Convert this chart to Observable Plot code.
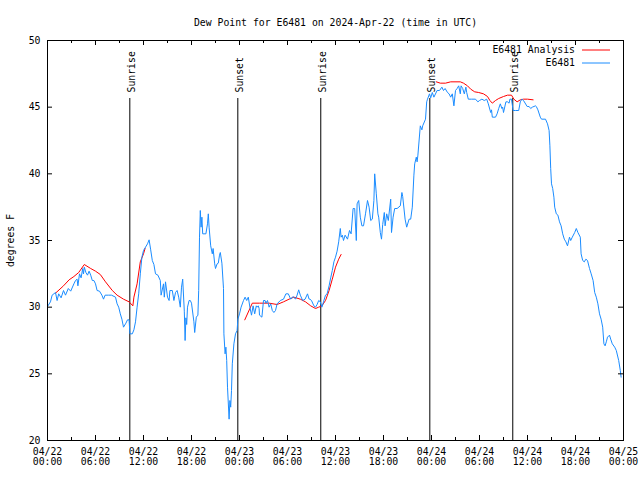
<!DOCTYPE html>
<html><head><meta charset="utf-8">
<script src="https://cdn.jsdelivr.net/npm/d3@7"></script>
<script src="https://cdn.jsdelivr.net/npm/@observablehq/plot@0.6"></script>
<style>body{margin:0;background:#fff}</style>
</head><body><div id="chart"></div>
<script>
const titleText = "Dew Point for E6481 on 2024-Apr-22 (time in UTC)";
const yLabel = "degrees F";
const startMs = Date.UTC(2024, 3, 22, 0, 0);

// Observations (hours since 04/22 00:00 UTC, dew point °F)
const obsHours = [0.0,0.37,0.58,1.0,1.2,1.4,1.7,2.0,2.25,2.6,2.9,3.3,3.5,3.7,3.8,4.0,4.2,4.4,4.5,4.6,4.8,5.0,5.2,5.4,5.6,5.8,6.0,6.2,6.5,6.8,7.0,7.2,7.6,8.0,8.5,8.7,8.9,9.1,9.3,9.5,9.8,10.0,10.2,10.3,10.6,10.8,11.0,11.2,11.4,11.6,11.8,12.0,12.5,12.7,12.9,13.1,13.3,13.5,13.8,14.1,14.2,14.5,14.6,14.75,15.0,15.2,15.3,15.6,15.8,16.0,16.2,16.4,16.6,16.75,16.9,17.1,17.2,17.3,17.4,17.5,17.7,17.85,18.0,18.3,18.4,18.6,18.8,18.9,19.0,19.1,19.2,19.3,19.4,19.8,20.0,20.1,20.2,20.4,20.6,20.7,20.9,21.0,21.2,21.35,21.5,21.6,21.8,22.0,22.05,22.2,22.3,22.4,22.5,22.7,22.8,22.9,23.0,23.1,23.3,23.5,23.7,23.8,24.0,24.2,24.5,24.7,24.9,25.1,25.3,25.5,25.7,25.9,26.1,26.2,26.35,26.45,26.5,26.8,27.0,27.2,27.3,27.5,27.7,27.9,28.1,28.3,28.5,28.7,29.1,29.5,29.8,30.1,30.4,30.7,31.0,31.2,31.4,31.6,31.9,32.2,32.5,32.7,32.8,33.0,33.3,33.5,33.7,33.9,34.1,34.3,34.5,34.75,34.95,35.2,35.4,35.6,35.8,36.0,36.2,36.4,36.6,36.7,36.85,37.0,37.2,37.5,37.75,37.95,38.2,38.4,38.6,38.7,38.9,39.1,39.3,39.5,39.75,40.0,40.2,40.4,40.6,40.8,40.9,41.1,41.3,41.4,41.6,41.75,41.9,42.1,42.2,42.4,42.6,42.9,43.0,43.2,43.4,43.7,44.1,44.3,44.4,44.7,44.9,45.2,45.4,45.6,45.8,45.9,46.1,46.2,46.3,46.6,46.8,46.9,47.25,47.4,47.5,47.75,47.9,48.1,48.3,48.7,49.0,49.3,49.5,49.7,50.0,50.2,50.4,50.6,50.8,51.0,51.2,51.4,51.6,51.7,51.9,52.1,52.3,52.4,52.6,53.0,53.5,53.8,54.0,54.3,54.6,54.9,55.1,55.4,55.5,55.6,56.0,56.2,56.4,56.6,56.8,56.9,57.0,57.3,57.5,57.7,57.8,58.0,58.2,58.5,58.9,59.1,59.3,59.5,59.96,60.2,60.4,60.6,61.0,61.1,61.3,61.6,61.75,62.25,62.5,62.7,62.8,62.9,63.0,63.15,63.3,63.4,63.6,63.8,64.0,64.2,64.4,64.6,64.8,65.0,65.25,65.4,65.6,65.9,66.1,66.3,66.6,66.7,66.9,67.1,67.3,67.5,67.75,67.96,68.2,68.4,68.6,68.8,69.0,69.2,69.4,69.55,69.7,69.85,70.0,70.25,70.4,70.6,70.9,71.1,71.4,71.6,71.7];
const obsDew = [30.05,30.4,30.9,31.1,30.5,31.0,30.7,31.25,30.9,31.4,31.2,31.75,32.0,32.1,31.6,32.5,32.2,32.9,32.5,33.0,32.6,32.4,32.7,32.4,32.0,32.0,31.75,31.25,31.2,30.9,30.6,30.9,30.9,30.9,30.75,30.25,30.0,29.5,29.1,28.5,28.8,29.05,29.05,28.0,28.0,28.3,28.9,30.0,31.0,32.5,33.75,34.25,34.75,35.05,34.3,33.5,33.2,32.5,32.4,32.0,30.9,31.75,30.75,31.9,30.75,30.5,31.25,31.25,30.5,31.1,31.25,30.75,30.0,31.5,32.1,29.7,27.5,29.2,28.7,30.0,30.5,30.5,30.3,28.9,28.1,29.25,29.4,31.25,35.25,37.25,36.0,36.75,35.5,35.5,36.25,37.0,36.0,34.6,34.0,34.4,33.25,32.9,33.25,33.3,33.9,34.1,33.3,31.4,28.0,26.5,27.0,26.0,24.0,21.6,23.0,22.5,23.75,25.75,27.25,28.0,28.25,29.1,29.5,30.0,30.5,30.75,30.5,30.75,30.0,29.4,30.1,29.5,30.1,30.0,30.1,29.9,29.4,29.25,30.5,30.5,30.3,30.5,30.0,30.25,29.75,29.6,29.75,30.25,30.5,30.6,31.0,31.0,30.6,30.8,30.6,30.9,31.3,30.9,30.5,30.6,31.0,30.6,30.6,30.5,30.1,30.0,30.2,30.5,30.4,30.0,30.4,30.9,31.0,31.6,32.2,32.75,33.4,33.75,34.2,34.9,35.9,35.25,35.4,35.0,35.4,35.1,35.75,35.5,37.4,37.4,35.0,37.75,38.0,36.75,36.1,36.1,37.0,38.0,37.5,36.5,36.6,38.0,40.0,38.5,37.0,36.75,35.6,35.1,36.2,37.1,36.1,37.0,36.5,38.1,35.6,36.75,37.4,37.4,37.6,38.6,38.3,36.6,36.0,36.6,36.6,37.5,39.9,40.75,41.25,40.9,41.4,43.6,43.3,43.6,44.1,45.4,45.6,46.0,45.7,46.1,45.75,46.25,46.25,46.5,46.25,46.4,46.1,46.0,45.75,46.0,45.1,46.25,46.4,46.6,46.0,46.6,46.4,46.0,46.5,46.1,45.6,45.6,45.6,45.4,45.5,45.6,45.5,45.6,45.25,44.6,44.8,44.25,44.25,44.5,44.9,45.25,44.9,45.0,44.6,45.4,45.4,45.3,45.6,45.6,44.75,44.75,44.75,45.4,45.6,45.5,45.05,45.05,44.9,45.0,45.1,45.05,44.8,44.25,44.1,44.1,43.75,43.25,42.1,40.4,39.25,38.9,38.25,37.5,37.0,36.9,36.4,36.1,35.5,35.1,34.9,34.6,35.25,35.0,35.25,35.6,35.9,35.6,35.25,34.0,33.5,33.4,33.6,33.5,32.9,32.5,32.0,31.1,30.75,30.25,29.5,29.1,28.5,27.25,27.1,27.4,27.75,27.9,27.6,27.25,27.0,26.75,26.0,25.25,24.75];

// Analysis (null = gap between runs)
const anaHours = [1.0,2.0,2.7,3.3,3.9,4.6,5.4,6.0,6.6,7.25,8.1,8.7,9.5,10.2,10.67,10.8,11.2,11.6,12.0,12.2, 18.0,
  24.66,25.6,26.5,27.7,28.7,29.5,30.2,30.8,31.6,32.25,32.9,33.5,33.9,34.3,34.75,35.2,35.6,36.0,36.4,36.7, 42.0,
  48.6,49.1,49.75,50.4,51.6,52.0,52.5,52.9,53.4,53.9,54.5,55.0,55.3,55.6,56.0,56.4,57.0,57.5,58.0,58.3,58.7,59.1,59.5,60.0,60.7];
const anaDew = [31.05,31.6,32.05,32.3,32.6,33.2,32.9,32.7,32.45,31.9,31.25,30.9,30.6,30.4,30.1,30.75,31.75,33.4,34.0,34.4, null,
  29.05,30.3,30.3,30.3,30.2,30.4,30.6,30.75,30.6,30.4,30.1,29.9,30.0,30.1,30.5,31.25,32.1,33.0,33.6,33.95, null,
  46.9,46.8,46.8,46.9,46.9,46.8,46.6,46.35,46.15,46.1,46.0,45.8,45.5,45.3,45.5,45.65,45.8,45.9,45.9,45.6,45.4,45.55,45.6,45.6,45.55];

// Sun events
const eventHours = [10.29, 23.79, 34.16, 47.79, 58.16];
const eventLabels = ["Sunrise", "Sunset", "Sunrise", "Sunset", "Sunrise"];

// Axes
const xMajorHours = [0,6,12,18,24,30,36,42,48,54,60,66,72];
const xMajorLabels = ["04/22\n00:00","04/22\n06:00","04/22\n12:00","04/22\n18:00","04/23\n00:00","04/23\n06:00","04/23\n12:00","04/23\n18:00","04/24\n00:00","04/24\n06:00","04/24\n12:00","04/24\n18:00","04/25\n00:00"];
const xMinorHours = [3,9,15,21,27,33,39,45,51,57,63,69];
const yTicks = [20,25,30,35,40,45,50];

// Legend
const legendLabels = ["E6481 Analysis", "E6481"];
const legendColors = ["#ff0000", "#1a8cff"];

const toDate = h => new Date(startMs + h * 3600e3);
const obs = obsHours.map((h, i) => ({t: toDate(h), v: obsDew[i]}));
const ana = anaHours.map((h, i) => ({t: toDate(h), v: anaDew[i]}));
const events = eventHours.map((h, i) => ({t: toDate(h), label: eventLabels[i]}));
const labelMap = new Map(xMajorHours.map((h, i) => [+toDate(h), xMajorLabels[i]]));

const W = 640, H = 480, ML = 47, MR = 17, MT = 40, MB = 40;
const frameW = W - ML - MR, frameH = H - MT - MB;
const major = 5, minor = 3;

function legend(index, scales, values, dims) {
  const g = d3.create("svg:g");
  const xr = dims.width - dims.marginRight;
  legendLabels.forEach((lab, i) => {
    const y = dims.marginTop + 9.5 + i * 13;
    g.append("text").attr("x", xr - 48).attr("y", y).attr("text-anchor", "end")
      .attr("dy", "0.32em").attr("fill", "black").text(lab);
    g.append("line").attr("x1", xr - 41).attr("x2", xr - 13).attr("y1", y + 0.5).attr("y2", y + 0.5)
      .attr("stroke", legendColors[i]).attr("stroke-width", 1);
  });
  return g.node();
}

const chart = Plot.plot({
  width: W, height: H,
  marginLeft: ML, marginRight: MR, marginTop: MT, marginBottom: MB,
  style: {fontFamily: "'DejaVu Sans Mono', monospace", fontSize: "9.8px", background: "white", color: "black"},
  x: {type: "utc", domain: [toDate(0), toDate(72)]},
  y: {domain: [20, 50]},
  marks: [
    Plot.ruleX(events, {x: "t", insetTop: 58, stroke: "black"}),
    Plot.text(events, {x: "t", text: "label", frameAnchor: "top", rotate: -90, textAnchor: "start", dy: 52, dx: -2, fill: "black"}),
    Plot.line(ana, {x: "t", y: "v", stroke: legendColors[0], strokeWidth: 1}),
    Plot.line(obs, {x: "t", y: "v", stroke: legendColors[1], strokeWidth: 1}),
    Plot.tickY(yTicks, {y: d => d, insetRight: frameW - major, stroke: "black"}),
    Plot.tickY(yTicks, {y: d => d, insetLeft: frameW - major, stroke: "black"}),
    Plot.tickX(xMajorHours.map(toDate), {x: d => d, insetTop: frameH - major, stroke: "black"}),
    Plot.tickX(xMajorHours.map(toDate), {x: d => d, insetBottom: frameH - major, stroke: "black"}),
    Plot.tickX(xMinorHours.map(toDate), {x: d => d, insetTop: frameH - minor, stroke: "black"}),
    Plot.tickX(xMinorHours.map(toDate), {x: d => d, insetBottom: frameH - minor, stroke: "black"}),
    Plot.axisX({ticks: xMajorHours.map(toDate), tickFormat: d => labelMap.get(+d), tickSize: 0, tickPadding: 8, label: null}),
    Plot.axisY({ticks: yTicks, tickSize: 0, tickPadding: 7, label: yLabel, labelAnchor: "center", labelArrow: "none", labelOffset: 40}),
    Plot.frame({stroke: "black"}),
    Plot.text([titleText], {text: d => d, frameAnchor: "top", dy: -21, fill: "black"}),
    legend
  ]
});
document.getElementById("chart").appendChild(chart);
</script>
</body></html>
